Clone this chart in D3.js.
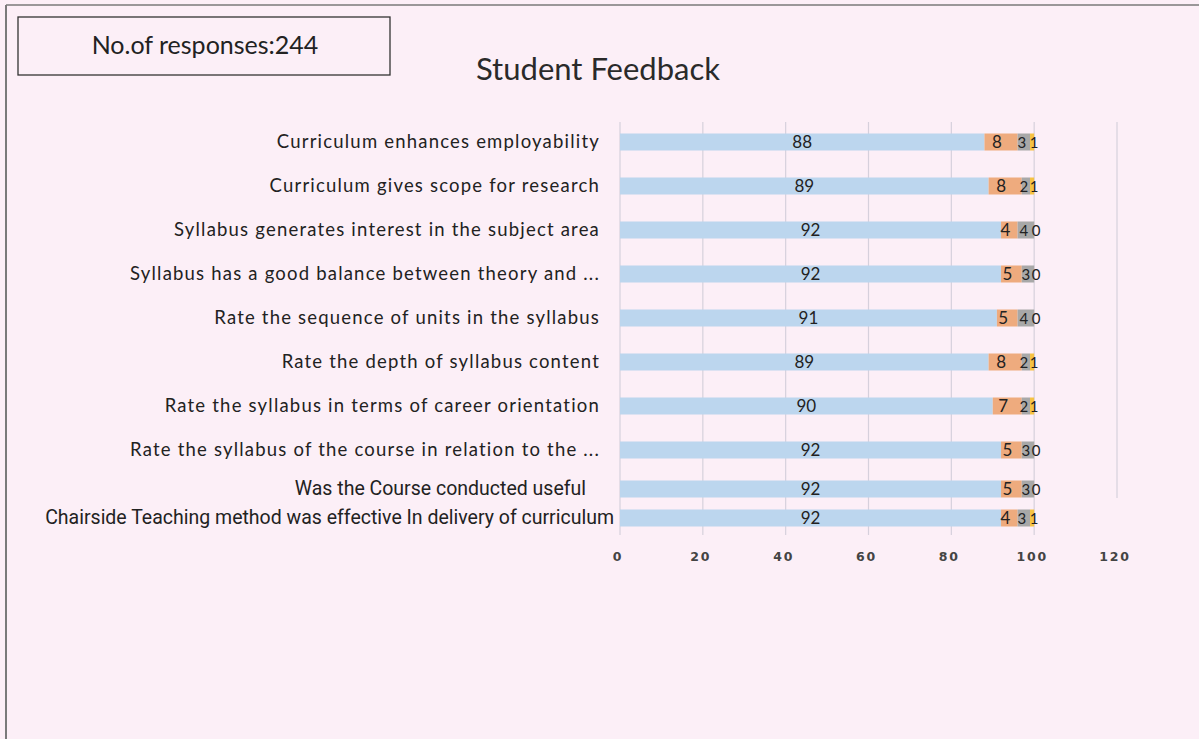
<!DOCTYPE html>
<html><head><meta charset="utf-8">
<script src="https://cdn.jsdelivr.net/npm/d3@7"></script>
<style>
html,body{margin:0;padding:0;background:#fceff7;}
svg{display:block;}
</style></head><body>
<svg id="c" width="1199" height="739"></svg>
<script>
const categories = [
  "Curriculum enhances employability",
  "Curriculum gives scope for research",
  "Syllabus generates interest in the subject area",
  "Syllabus has a good balance between theory and ...",
  "Rate the sequence of units in the syllabus",
  "Rate the depth of syllabus content",
  "Rate the syllabus in terms of career orientation",
  "Rate the syllabus of the course in relation to the ...",
  "Was the Course conducted useful",
  "Chairside Teaching method was effective In delivery of curriculum"
];
const seriesNames = ["Excellent", "Good", "Average", "Poor"];
const excellent = [88, 89, 92, 92, 91, 89, 90, 92, 92, 92];
const good      = [8, 8, 4, 5, 5, 8, 7, 5, 5, 4];
const average   = [3, 2, 4, 3, 4, 2, 2, 3, 3, 3];
const poor      = [1, 1, 0, 0, 0, 1, 1, 0, 0, 1];
const xTicks = [0, 20, 40, 60, 80, 100, 120];
const colors = ["#bcd6ee", "#eeab7e", "#a8a8a8", "#f5c242"];

const svg = d3.select("#c");
const W = 1199, H = 739;

// outer frame
svg.append("line").attr("x1",6).attr("x2",W).attr("y1",5).attr("y2",5).attr("stroke","#7a7a7a").attr("stroke-width",1.5);
svg.append("line").attr("x1",6).attr("x2",6).attr("y1",5).attr("y2",H).attr("stroke","#7a7a7a").attr("stroke-width",2);

// response box
svg.append("rect").attr("x",18).attr("y",17).attr("width",372).attr("height",58)
  .attr("fill","none").attr("stroke","#333").attr("stroke-width",1.3);
svg.append("text").attr("x",205).attr("y",54).attr("text-anchor","middle")
  .attr("font-family","Lato, 'Open Sans', sans-serif").attr("font-size",25).attr("fill","#222")
  .text("No.of responses:244");

// title
svg.append("text").attr("x",598).attr("y",80).attr("text-anchor","middle")
  .attr("font-family","Lato, 'Open Sans', sans-serif").attr("font-size",31).attr("fill","#2a2a2a")
  .text("Student Feedback");

const x = d3.scaleLinear().domain([0,120]).range([620,1117]);
// row centres (scan is slightly compressed near the bottom)
const yIdx = d3.scaleLinear().domain([0,7,8,9]).range([142,450,489,518]);
const barH = 17;

// gridlines
svg.append("g").selectAll("line").data(xTicks).join("line")
  .attr("x1",d=>x(d)).attr("x2",d=>x(d))
  .attr("y1",122).attr("y2",d=>d===120?498:535)
  .attr("stroke","#d6d0dc").attr("stroke-width",1.2);

// stacked data
const rows = categories.map((c,i)=>({cat:c, i, v:[excellent[i],good[i],average[i],poor[i]]}));
const stackData = rows.map(r=>{
  let acc=0; return r.v.map((v,k)=>{const s={i:r.i,k,v,x0:acc,x1:acc+v}; acc+=v; return s;});
}).flat();

svg.append("g").selectAll("rect").data(stackData.filter(d=>d.v>0)).join("rect")
  .attr("x",d=>x(d.x0)).attr("width",d=>x(d.x1)-x(d.x0))
  .attr("y",d=>yIdx(d.i)-barH/2).attr("height",barH)
  .attr("fill",d=>colors[d.k]);

// value labels
const nudge = [0,-4,-2,2];
svg.append("g").selectAll("text").data(stackData).join("text")
  .attr("x",d=>(x(d.x0)+x(d.x1))/2 + nudge[d.k])
  .attr("y",d=>yIdx(d.i)+6)
  .attr("text-anchor","middle")
  .attr("font-family","Lato, 'Open Sans', sans-serif").attr("font-size",d=>d.k>=2?15:17)
  .attr("fill","#222")
  .text(d=>d.v);

// category labels
const labelEnd = i => i===9 ? 614 : (i===8 ? 586 : 600);
svg.append("g").selectAll("text").data(rows).join("text")
  .attr("x",d=>labelEnd(d.i))
  .attr("y",d=>yIdx(d.i)+6)
  .attr("text-anchor","end")
  .attr("font-family",d=>d.i>=8?"Roboto, sans-serif":"Lato, 'Open Sans', sans-serif")
  .attr("font-size",d=>d.i>=8?19.5:18.5)
  .attr("letter-spacing",d=>d.i>=8?0:1.2)
  .attr("fill","#222")
  .text(d=>d.cat);

// x axis tick labels
svg.append("g").selectAll("text").data(xTicks).join("text")
  .attr("x",d=>x(d)-2).attr("y",561)
  .attr("text-anchor","middle")
  .attr("font-family","'DejaVu Sans', Verdana, sans-serif").attr("font-weight","bold")
  .attr("font-size",12.5).attr("letter-spacing",1.8).attr("fill","#444")
  .text(d=>d);
</script>
</body></html>
